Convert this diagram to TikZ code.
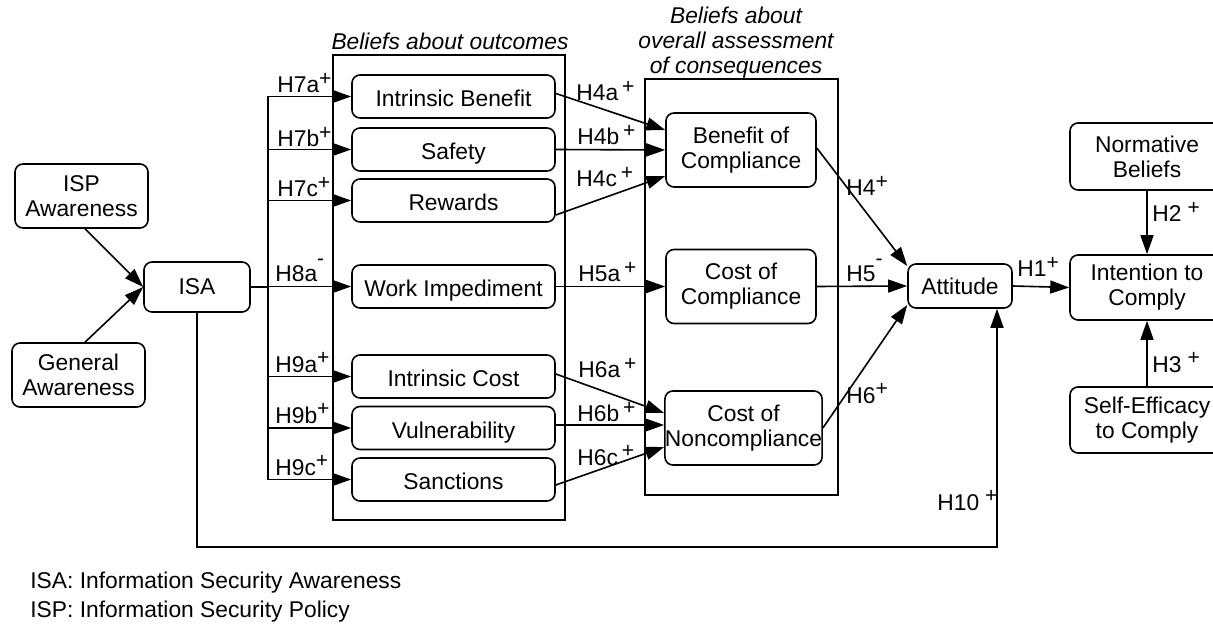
\documentclass[tikz,border=0pt]{standalone}
\usepackage{fontspec}
\setmainfont{Liberation Sans}
\usetikzlibrary{arrows.meta,calc}
% raised sign after a hypothesis name
\newcommand\hsign[1]{\raisebox{3.6pt}{\fontsize{10.5}{10.5}\selectfont #1}}
\newcommand\hneg{\raisebox{8pt}{\fontsize{10.5}{10.5}\selectfont -}}
\begin{document}
\begin{tikzpicture}[x=0.5pt,y=-0.5pt,
  every node/.style={font=\fontsize{11.4}{12.5}\selectfont},
  box/.style={draw, rounded corners=4pt, line width=0.8pt, align=center, inner sep=0pt},
  frame/.style={draw, line width=0.8pt},
  conn/.style={line width=0.8pt},
  arr/.style={conn, -{Triangle[length=9.5pt,width=6.5pt]}},
  hlab/.style={anchor=base west, inner sep=0pt},
  head/.style={font=\fontsize{11.4}{12.5}\selectfont\itshape, anchor=base, inner sep=0pt},
  obox/.style={box, minimum width=101.5pt, minimum height=21.5pt, text height=10pt, text depth=0pt},
  cbox/.style={box, minimum width=75pt, minimum height=37pt},
  rbox/.style={box, minimum width=77pt}
]
\useasboundingbox (0,0) rectangle (1213,624);
\clip (0,0) rectangle (1213,624);

% group frames
\draw[frame] (333,55) rectangle (565,520);
\draw[frame] (645,79) rectangle (838,495);
\node[head] (h1) at (450,50) {Beliefs about outcomes};
\node[head] (h2a) at (736,24) {Beliefs about};
\node[head] (h2b) at (736,49) {overall assessment};
\node[head] (h2c) at (736,74) {of consequences};

% awareness
\node[box, minimum width=66.5pt, minimum height=32pt] (ispa) at (81.5,196) {ISP\\Awareness};
\node[box, minimum width=66.5pt, minimum height=32pt] (gena) at (78.5,375) {General\\Awareness};
\node[box, minimum width=53pt, minimum height=25pt] (isa) at (197,287) {ISA};

% beliefs about outcomes
\node[obox] (ib)  at (453.5,96.5)  {Intrinsic Benefit};
\node[obox] (saf) at (453.5,149.5) {Safety};
\node[obox] (rew) at (453.5,200.5) {Rewards};
\node[obox] (wi)  at (453.5,286.5) {Work Impediment};
\node[obox] (ic)  at (453.5,376.5) {Intrinsic Cost};
\node[obox] (vul) at (453.5,428)   {Vulnerability};
\node[obox] (san) at (453.5,479.5) {Sanctions};

% overall assessment
\node[cbox] (boc) at (741,150)   {Benefit of\\Compliance};
\node[cbox] (coc) at (741,286.5) {Cost of\\Compliance};
\node[cbox, minimum width=75.5pt] (con) at (743.5,428) {Cost of\\Noncompliance};

% attitude and intention
\node[box, minimum width=52pt, minimum height=22pt] (att) at (960,286) {Attitude};
\node[rbox, minimum height=32.5pt] (itc) at (1147,287.5) {Intention to\\Comply};
\node[rbox, minimum height=33.5pt] (nb)  at (1147,156.5) {Normative\\Beliefs};
\node[rbox, minimum height=33pt]   (se)  at (1147,420)   {Self-Efficacy\\to Comply};

% awareness -> ISA
\draw[arr] ($(ispa.south)+(3.5,0)$) -- (isa.west);
\draw[arr] ($(gena.north)+(6.5,0)$) -- (isa.west);

% ISA bus
\coordinate (bt) at (268,97);
\draw[conn] (isa.east) -- (isa.east -| bt);
\draw[conn] (bt |- ib.west) -- (bt |- san.west);
\foreach \n in {ib,saf,rew,wi,ic,vul,san}
  \draw[arr] (bt |- \n.west) -- (\n.west);

% outcomes -> overall assessment
\draw[arr] ($(ib.east)+(0,-3)$) -- ($(boc.west)+(0,-20)$);
\draw[arr] (saf.east) -- (boc.west);
\draw[arr] ($(rew.east)+(0,14.5)$) -- ($(boc.west)+(0,26)$);
\draw[arr] (wi.east) -- (coc.west);
\draw[arr] ($(ic.east)+(0,-2.5)$) -- ($(con.west)+(0,-15)$);
\draw[arr] ($(vul.east)+(0,-3)$) -- ($(con.west)+(0,-3)$);
\draw[arr] ($(san.east)+(0,5.5)$) -- ($(con.west)+(0,19)$);

% overall assessment -> attitude
\draw[arr] ($(boc.east)+(0,-2)$) -- ($(att.west)+(0,-20)$);
\draw[arr] (coc.east) -- (att.west);
\draw[arr] (con.east) -- ($(att.west)+(0,19)$);

% attitude, norms, efficacy -> intention
\draw[arr] (att.east) -- (itc.west);
\draw[arr] (nb.south) -- (itc.north);
\draw[arr] (se.north) -- (itc.south);

% ISA -> attitude
\coordinate (h10) at (997,547);
\draw[arr] (isa.south) |- (h10) -- (att.south -| h10);

% hypothesis labels
\node[hlab] at (277,93)  {H7a\hsign{+}};
\node[hlab] at (277,147) {H7b\hsign{+}};
\node[hlab] at (277,197) {H7c\hsign{+}};
\node[hlab] at (275,282) {H8a\hneg};
\node[hlab] at (275,372) {H9a\hsign{+}};
\node[hlab] at (275,423) {H9b\hsign{+}};
\node[hlab] at (275,475) {H9c\hsign{+}};
\node[hlab] at (576,101) {H4a\,\hsign{+}};
\node[hlab] at (577,145) {H4b\,\hsign{+}};
\node[hlab] at (576,187) {H4c\,\hsign{+}};
\node[hlab] at (578,282) {H5a\,\hsign{+}};
\node[hlab] at (578,378) {H6a\,\hsign{+}};
\node[hlab] at (577,422) {H6b\,\hsign{+}};
\node[hlab] at (577,465) {H6c\,\hsign{+}};
\node[hlab] at (846,196) {H4\hsign{+}};
\node[hlab] at (846,282) {H5\hneg};
\node[hlab] at (846,403) {H6\hsign{+}};
\node[hlab] at (1017,277) {H1\hsign{+}};
\node[hlab] at (1152,222) {H2\hspace{3pt}\hsign{+}};
\node[hlab] at (1152,372) {H3\hspace{3pt}\hsign{+}};
\node[hlab] at (937,510)  {H10\hspace{3pt}\hsign{+}};

% legend
\node[hlab] (l1) at (30,588) {ISA: Information Security Awareness};
\node[hlab] (l2) at (30,617) {ISP: Information Security Policy};
\end{tikzpicture}
\end{document}
